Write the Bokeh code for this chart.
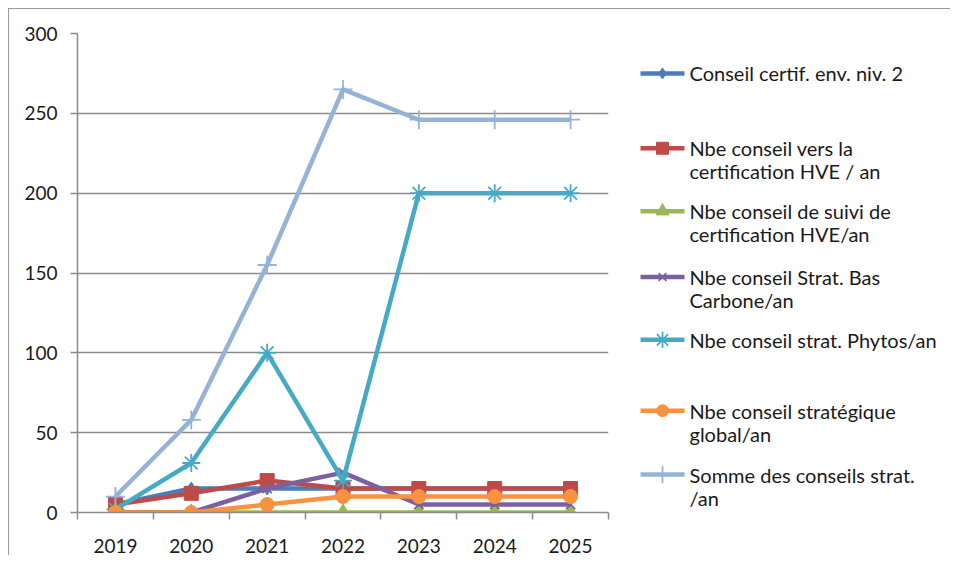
from bokeh.plotting import figure
from bokeh.layouts import row
from bokeh.models import FixedTicker, Range1d, ColumnDataSource
from bokeh.core.properties import value
from bokeh.embed import file_html
from bokeh.resources import INLINE
import numpy as np

years = ["2019", "2020", "2021", "2022", "2023", "2024", "2025"]
cert_env = [5, 15, 15, 15, 15, 15, 15]
vers_hve = [5, 12, 20, 15, 15, 15, 15]
suivi_hve = [0, 0, 0, 0, 0, 0, 0]
bas_carbone = [0, 0, 15, 25, 5, 5, 5]
phytos = [2, 31, 100, 20, 200, 200, 200]
strat_global = [0, 0, 5, 10, 10, 10, 10]
somme = [10, 58, 155, 265, 246, 246, 246]
y_ticks = [0, 50, 100, 150, 200, 250, 300]

labels = [
    "Conseil certif. env. niv. 2",
    "Nbe conseil vers la\ncertification HVE / an",
    "Nbe conseil de suivi de\ncertification HVE/an",
    "Nbe conseil Strat. Bas\nCarbone/an",
    "Nbe conseil strat. Phytos/an",
    "Nbe conseil stratégique\nglobal/an",
    "Somme des conseils strat.\n/an",
]
series = [cert_env, vers_hve, suivi_hve, bas_carbone, phytos, strat_global, somme]
colors = ["#4A7EBB", "#BE4B48", "#98B954", "#7D60A0", "#46AAC5", "#F69240", "#95B3D7"]
markers = ["diamond", "square", "triangle", "x", "asterisk", "circle", "cross"]
msizes = [13, 14, 15, 13, 18, 14, 19]

FONT = "Lato"
GRID = "#8C8C8C"
TXT = "#1A1A1A"

x = np.arange(len(years)) + 0.5

p = figure(width=611, height=546, output_backend="svg", toolbar_location=None,
           x_range=Range1d(0, len(years)), y_range=Range1d(0, 300),
           min_border_left=68, min_border_right=12, min_border_top=24, min_border_bottom=42)
p.outline_line_color = None
p.xgrid.grid_line_color = None
p.ygrid.grid_line_color = GRID
p.ygrid.grid_line_width = 1.5
p.ygrid.ticker = FixedTicker(ticks=y_ticks)

p.yaxis.ticker = FixedTicker(ticks=y_ticks)
p.yaxis.axis_line_color = GRID
p.yaxis.axis_line_width = 1.5
p.yaxis.major_tick_line_color = GRID
p.yaxis.major_tick_line_width = 1.5
p.yaxis.major_tick_out = 7
p.yaxis.major_tick_in = 0
p.yaxis.minor_tick_line_color = None
p.yaxis.major_label_standoff = 13
p.yaxis.major_label_text_font = FONT
p.yaxis.major_label_text_font_size = "19px"
p.yaxis.major_label_text_color = TXT

bounds = list(range(len(years) + 1))
p.xaxis.ticker = FixedTicker(ticks=list(x), minor_ticks=bounds)
p.xaxis.major_label_overrides = {float(xi): yr for xi, yr in zip(x, years)}
p.xaxis.axis_line_color = GRID
p.xaxis.axis_line_width = 1.5
p.xaxis.major_tick_line_color = None
p.xaxis.minor_tick_line_color = GRID
p.xaxis.minor_tick_line_width = 1.5
p.xaxis.minor_tick_out = 7
p.xaxis.minor_tick_in = 0
p.xaxis.major_label_standoff = 19
p.xaxis.major_label_text_font = FONT
p.xaxis.major_label_text_font_size = "19px"
p.xaxis.major_label_text_color = TXT

line_markers = {"x", "asterisk", "cross"}


def draw_marker(fig, xs, ys, m, c, s):
    if m in line_markers:
        fig.scatter(xs, ys, marker=m, size=s, line_color=c, line_width=1.8, fill_color=None)
    else:
        fig.scatter(xs, ys, marker=m, size=s, line_color=c, fill_color=c)


for vals, c, m, s in zip(series, colors, markers, msizes):
    src = ColumnDataSource(dict(x=x, y=vals))
    p.line("x", "y", source=src, line_color=c, line_width=4.5, line_join="round")
    draw_marker(p, x, vals, m, c, s)

# legend panel (frame aligned with the main plot's frame: 480 px tall)
LW, LH = 330, 546
FH = 480
lg = figure(width=LW, height=LH, output_backend="svg", toolbar_location=None,
            x_range=Range1d(0, LW), y_range=Range1d(FH, 0),
            x_axis_location=None, y_axis_location=None,
            min_border_left=0, min_border_right=0, min_border_top=24, min_border_bottom=42)
lg.grid.visible = False
lg.outline_line_color = None

entry_y = [40, 115, 178, 244, 307, 378, 442]
line_h = 23
tx, ty, tt = [], [], []
for lab, ey in zip(labels, entry_y):
    for k, part in enumerate(lab.split("\n")):
        tx.append(69)
        ty.append(ey + k * line_h)
        tt.append(part)
for c, m, s, ey in zip(colors, markers, msizes, entry_y):
    lg.line([20, 64], [ey, ey], line_color=c, line_width=4.5)
    draw_marker(lg, [42], [ey], m, c, s - 2)
lg.text(tx, ty, text=tt, text_font=value(FONT), text_font_size="20px",
        text_baseline="middle", text_align="left", text_color=TXT)

layout = row(p, lg, styles={"border-top": "1.5px solid #9A9A9A", "border-left": "1.5px solid #9A9A9A",
                            "margin-left": "8px", "margin-top": "8px"})
open("out.html", "w").write(file_html(layout, INLINE))
